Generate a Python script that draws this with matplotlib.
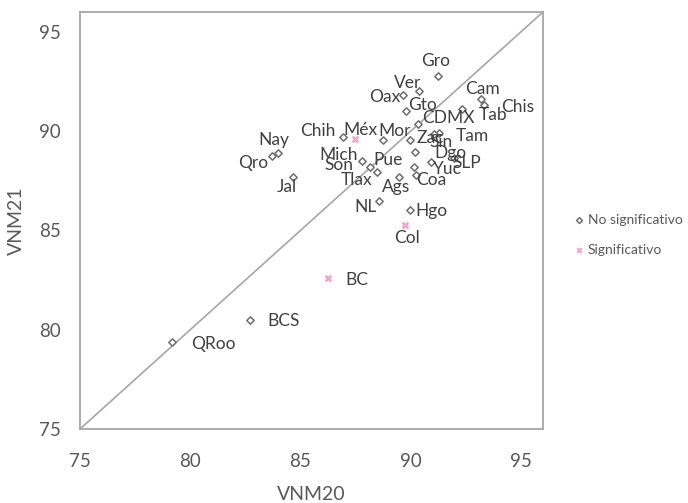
import matplotlib
matplotlib.use("Agg")
import matplotlib.pyplot as plt

plt.rcParams['font.family'] = ['Lato', 'DejaVu Sans']

# Data
states = ["Gro", "Ver", "Oax", "Gto", "CDMX", "Cam", "Chis", "Tab", "Chih", "Mor",
          "Zac", "Tam", "Sin", "Dgo", "SLP", "Yuc", "Coa", "Pue", "Ags", "Mich",
          "Son", "Tlax", "Nay", "Qro", "Jal", "NL", "Hgo", "BCS", "QRoo"]
vnm20 = [91.24, 90.38, 89.66, 89.80, 90.34, 93.19, 93.33, 92.33, 86.95, 88.76,
         89.98, 91.29, 91.06, 90.20, 91.97, 90.93, 90.23, 90.16, 89.48, 87.81,
         88.17, 88.48, 84.00, 83.73, 84.68, 88.57, 89.98, 82.72, 79.18]
vnm21 = [92.77, 92.02, 91.82, 91.01, 90.36, 91.62, 91.32, 91.11, 89.71, 89.56,
         89.56, 89.93, 89.86, 88.96, 88.65, 88.45, 87.78, 88.20, 87.70, 88.50,
         88.20, 87.95, 88.91, 88.76, 87.70, 86.46, 86.04, 80.47, 79.40]

sig_states = ["Méx", "Col", "BC"]
sig_vnm20 = [87.49, 89.75, 86.24]
sig_vnm21 = [89.61, 85.29, 82.62]

axis_min, axis_max = 75, 96
ticks = [75, 80, 85, 90, 95]

# label offsets in pixels (dx right, dy down as in image)
offsets = {
    "Gro": (-2, -15), "Ver": (-11, -8), "Oax": (-18, 2), "Gto": (16, -6),
    "CDMX": (30, -6), "Cam": (1, -10), "Chis": (34, 2), "Tab": (31, 6),
    "Chih": (-26, -6), "Méx": (5, -9), "Mor": (11, -9), "Zac": (20, -2),
    "Tam": (33, 3), "Sin": (7, 8), "Dgo": (35, 1), "SLP": (13, 5),
    "Yuc": (16, 7), "Coa": (15, 5), "Pue": (-26, -7), "Ags": (-3, 10),
    "Mich": (-24, -6), "Son": (-31, -2), "Tlax": (-21, 8), "Nay": (-5, -13),
    "Qro": (-19, 7), "Jal": (-7, 10), "NL": (-14, 6), "Hgo": (21, 1),
    "Col": (2, 13), "BC": (29, 2), "BCS": (33, 1), "QRoo": (41, 2),
}

text_col = '#595959'
lab_col = '#404040'
grid_col = '#A6A6A6'
pink = '#F4A3CF'

fig = plt.figure(figsize=(6.88, 5.03), dpi=100)
ax = fig.add_axes([80/688, 74/503, 463/688, 417/503])

ax.plot([axis_min, axis_max], [axis_min, axis_max], color=grid_col, lw=1.2, zorder=1)

ax.scatter(vnm20, vnm21, marker='D', s=14, facecolors='white', edgecolors='#6E6E6E',
           linewidths=1.1, zorder=3, label='No significativo')
ax.scatter(sig_vnm20, sig_vnm21, marker='X', s=30, color=pink, linewidths=0,
           zorder=3, label='Significativo')

for name, x, y in list(zip(states, vnm20, vnm21)) + list(zip(sig_states, sig_vnm20, sig_vnm21)):
    dx, dy = offsets[name]
    ax.annotate(name, (x, y), xytext=(dx, -dy), textcoords='offset pixels',
                ha='center', va='center', fontsize=12.5, color=lab_col, zorder=4)

ax.set_xlim(axis_min, axis_max)
ax.set_ylim(axis_min, axis_max)
ax.set_xticks(ticks)
ax.set_yticks(ticks)
ax.tick_params(length=0, labelsize=13.5, colors=text_col)
ax.tick_params(axis='x', pad=17)
ax.tick_params(axis='y', pad=14)
for sp in ax.spines.values():
    sp.set_color(grid_col)
    sp.set_linewidth(1.3)

ax.set_xlabel('VNM20', fontsize=14, color=text_col, labelpad=12)
ax.set_ylabel('VNM21', fontsize=14, color=text_col, labelpad=10)

leg = fig.legend(loc='center left', bbox_to_anchor=(560/688, 1 - 235/503), frameon=False,
                 fontsize=10, labelcolor=text_col, handletextpad=0.1,
                 labelspacing=1.3, handlelength=1.0, markerscale=0.8)

fig.savefig('out.png', dpi=100)
